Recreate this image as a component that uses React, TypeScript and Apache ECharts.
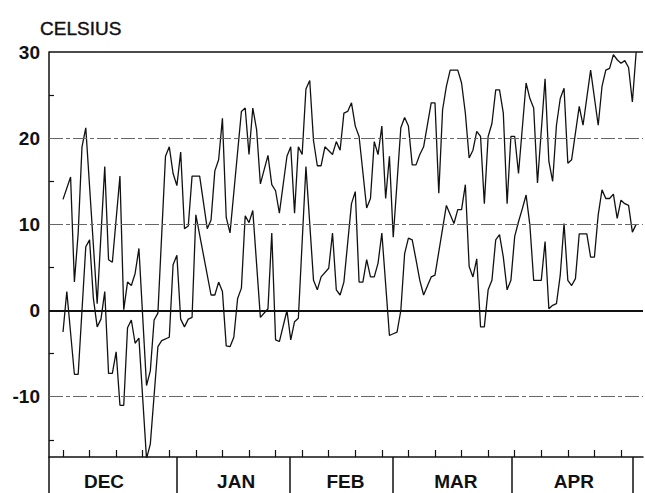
import React, { useEffect, useRef } from "react";
import * as echarts from "echarts";

// Day index (0 = first plotted day) and temperature in °C
const highs: [number, number][] = [
  [0, 12.9], [2, 15.5], [3, 3.3], [4, 9.0], [5, 19.0], [6, 21.2], [9, 0.8], [11, 16.7], [12, 5.9], [13, 5.6],
  [15, 15.6], [16, 0.1], [17, 3.3], [18, 2.9], [19, 4.3], [20, 7.2], [22, -8.7], [23, -7.0], [24, -1.1], [25, -0.3],
  [27, 17.9], [28, 19.0], [29, 15.9], [30, 14.5], [31, 18.4], [32, 9.5], [33, 9.8], [34, 15.6], [36, 15.6], [38, 9.5],
  [39, 10.5], [40, 16.2], [41, 17.5], [42, 22.3], [43, 10.8], [44, 9.0], [47, 23.1], [48, 23.5], [49, 18.1], [50, 23.5],
  [51, 21.0], [52, 14.7], [54, 18.0], [55, 14.6], [56, 13.9], [57, 11.3], [59, 17.9], [60, 19.0], [61, 11.3], [62, 19.0],
  [63, 18.1], [64, 25.7], [65, 26.7], [66, 19.7], [67, 16.8], [68, 16.8], [69, 19.0], [71, 18.1], [72, 19.6], [73, 18.6],
  [74, 22.9], [75, 23.1], [76, 24.1], [77, 21.4], [78, 20.2], [80, 11.9], [81, 13.0], [82, 19.6], [83, 18.1], [84, 21.4],
  [85, 13.0], [86, 17.9], [87, 8.5], [89, 21.2], [90, 22.4], [91, 21.4], [92, 16.9], [93, 16.9], [94, 18.1], [95, 19.0],
  [97, 24.1], [98, 24.1], [99, 13.6], [100, 23.3], [101, 26.0], [102, 27.9], [104, 27.9], [105, 26.4], [106, 22.9], [107, 17.7],
  [108, 18.6], [109, 20.8], [110, 20.2], [111, 12.4], [112, 20.2], [113, 21.7], [114, 25.6], [115, 25.6], [116, 22.9], [117, 12.4],
  [118, 20.2], [119, 20.2], [120, 15.9], [122, 26.4], [123, 24.6], [124, 23.5], [125, 14.8], [127, 26.9], [128, 17.3], [129, 15.0],
  [130, 21.5], [131, 24.6], [132, 25.8], [133, 17.1], [134, 17.5], [136, 23.7], [137, 21.5], [139, 27.9], [141, 21.5], [142, 26.0],
  [143, 27.9], [144, 28.1], [145, 29.7], [146, 29.1], [147, 28.7], [148, 29.0], [149, 28.2], [150, 24.2], [151, 30.0],
];

const lows: [number, number][] = [
  [0, -2.5], [1, 2.2], [3, -7.4], [4, -7.4], [6, 7.4], [7, 8.2], [8, 1.4], [9, -1.9], [10, -1.0], [11, 2.2],
  [12, -7.3], [13, -7.3], [14, -4.8], [15, -11.0], [16, -11.0], [17, -2.0], [18, -1.1], [19, -3.8], [20, -3.2], [22, -17.2],
  [23, -15.5], [25, -4.2], [26, -3.5], [28, -3.1], [29, 5.3], [30, 6.4], [31, -1.0], [32, -1.9], [33, -1.0], [34, -0.8],
  [35, 11.1], [39, 1.8], [40, 1.8], [41, 3.3], [42, 2.2], [43, -4.1], [44, -4.2], [45, -3.1], [46, 1.4], [47, 2.6],
  [48, 11.0], [49, 10.2], [50, 11.6], [52, -0.8], [54, 0.2], [55, 9.0], [56, -3.4], [57, -3.6], [59, 0.0], [60, -3.4],
  [61, -1.3], [62, -0.9], [64, 16.7], [66, 3.5], [67, 2.4], [68, 3.9], [70, 4.9], [71, 9.0], [72, 2.4], [73, 1.8],
  [74, 3.3], [76, 12.4], [77, 13.8], [78, 3.3], [79, 3.3], [80, 5.9], [81, 3.9], [82, 3.9], [83, 5.5], [84, 9.0],
  [86, -2.9], [87, -2.7], [88, -2.5], [89, 0.0], [90, 6.6], [91, 8.4], [92, 8.2], [93, 5.9], [94, 3.5], [95, 1.8],
  [97, 3.9], [98, 4.1], [101, 12.2], [103, 10.1], [104, 11.7], [105, 11.7], [106, 14.6], [107, 5.1], [108, 3.9], [109, 6.0],
  [110, -1.9], [111, -1.9], [112, 2.4], [113, 3.5], [114, 8.2], [115, 8.8], [116, 6.2], [117, 2.4], [118, 3.5], [119, 8.6],
  [120, 10.3], [121, 11.8], [122, 13.4], [123, 9.9], [124, 3.5], [126, 3.5], [127, 8.0], [128, 0.2], [129, 0.6], [130, 0.8],
  [131, 4.1], [132, 10.1], [133, 3.5], [134, 2.9], [135, 3.7], [136, 8.9], [138, 8.9], [139, 6.2], [140, 6.2], [141, 11.1],
  [142, 14.0], [143, 13.0], [144, 13.0], [145, 13.5], [146, 10.7], [147, 12.8], [148, 12.4], [149, 12.2], [150, 9.1], [151, 10.0],
];

const months = ["DEC", "JAN", "FEB", "MAR", "APR"];
const monthCenters = [10.8, 45.6, 74.4, 103.5, 134.6];
const monthBounds = [-3.69, 30.0, 59.8, 86.9, 118.3, 150.2];
const weekTicks = [0, 7, 14, 21, 28, 35, 42, 49, 56, 63, 70, 77, 84, 91, 98, 105, 112, 119, 126, 133, 140, 147];
const yLabels = [-10, 0, 10, 20, 30];
const yMinorTicks = [-15, -5, 5, 15, 25];
const gridValues = [20, 10, -10];

const X_MIN = -3.69;
const X_MAX = 152.8;
const FONT = "'Liberation Sans', Arial, Helvetica, sans-serif";
const INK = "#111";

export default function App() {
  const ref = useRef<HTMLDivElement>(null);
  useEffect(() => {
    if (!ref.current) return;
    const chart = echarts.init(ref.current, undefined, { renderer: "svg" });
    const option: any = {
      animation: false,
      backgroundColor: "#fff",
      title: {
        text: "CELSIUS",
        left: 35,
        top: 14,
        textStyle: { fontFamily: FONT, fontSize: 19, fontWeight: "normal", color: INK, textBorderColor: INK, textBorderWidth: 0.4 },
      },
      grid: { left: 49, right: 2, top: 52, bottom: 36 },
      xAxis: [
        {
          type: "value",
          min: X_MIN,
          max: X_MAX,
          position: "bottom",
          axisLine: { show: true, onZero: false, lineStyle: { color: INK, width: 1.5 } },
          axisTick: { show: true, inside: true, length: 7, customValues: weekTicks, lineStyle: { color: INK, width: 1.2 } },
          axisLabel: { show: false },
          splitLine: { show: false },
        },
        {
          type: "value",
          min: X_MIN,
          max: X_MAX,
          position: "bottom",
          axisLine: { show: false, onZero: false },
          axisTick: { show: true, inside: false, length: 40, customValues: monthBounds, lineStyle: { color: INK, width: 1.5 } },
          axisLabel: {
            show: true,
            customValues: monthCenters,
            margin: 15,
            fontFamily: FONT,
            fontSize: 19,
            fontWeight: "bold",
            color: INK,
            formatter: (v: number) => {
              let best = 0;
              for (let i = 0; i < monthCenters.length; i++) {
                if (Math.abs(monthCenters[i] - v) < Math.abs(monthCenters[best] - v)) best = i;
              }
              return months[best];
            },
          },
          splitLine: { show: false },
        },
      ],
      yAxis: {
        type: "value",
        min: -17,
        max: 30,
        axisLine: { show: true, onZero: false, lineStyle: { color: INK, width: 1.5 } },
        axisTick: { show: true, inside: true, length: 5, customValues: yMinorTicks, lineStyle: { color: INK, width: 1.2 } },
        axisLabel: { show: true, customValues: yLabels, margin: 9, fontFamily: FONT, fontSize: 19, fontWeight: "bold", color: INK },
        splitLine: { show: false },
      },
      series: [
        {
          name: "max",
          type: "line",
          data: highs,
          showSymbol: false,
          symbol: "none",
          lineStyle: { color: INK, width: 1.3 },
          markLine: {
            silent: true,
            symbol: "none",
            label: { show: false },
            data: [
              ...gridValues.map((v) => ({
                yAxis: v,
                lineStyle: { color: "#666", width: 1, type: [14, 3, 4, 3] },
              })),
              { yAxis: 0, lineStyle: { color: INK, width: 2, type: "solid" } },
              { yAxis: 30, lineStyle: { color: INK, width: 1.6, type: "solid" } },
            ],
          },
        },
        {
          name: "min",
          type: "line",
          data: lows,
          showSymbol: false,
          symbol: "none",
          lineStyle: { color: INK, width: 1.3 },
        },
      ],
    };
    chart.setOption(option);
    return () => chart.dispose();
  }, []);
  return (
    <div
      ref={ref}
      style={{ position: "fixed", left: 0, top: 0, width: 645, height: 493, background: "#fff" }}
    />
  );
}
